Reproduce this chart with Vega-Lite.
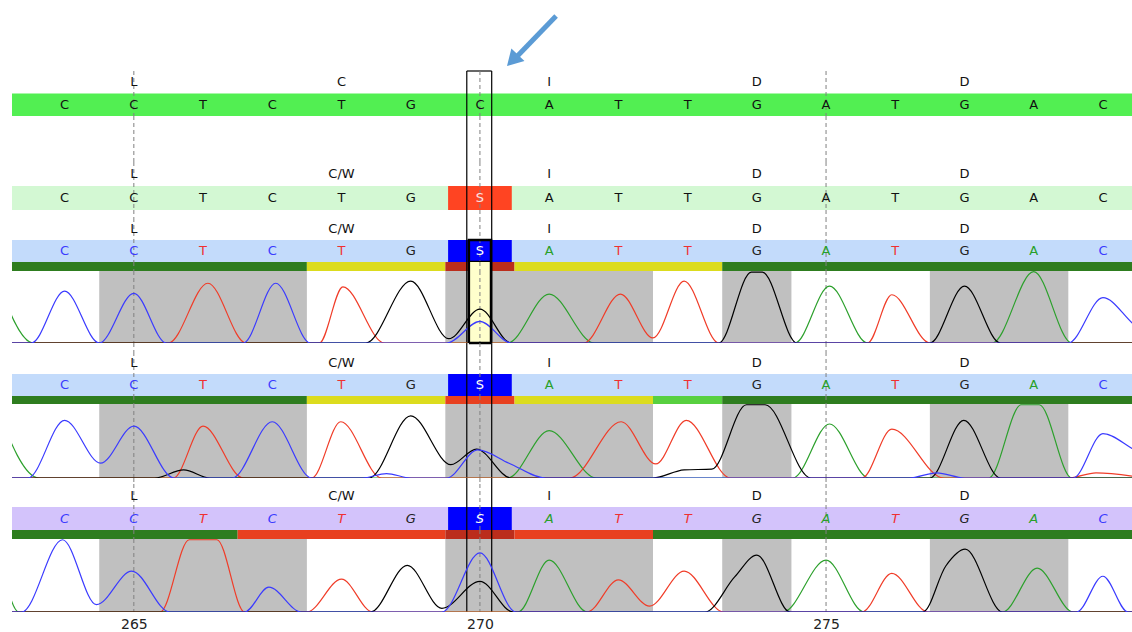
{
"$schema": "https://vega.github.io/schema/vega-lite/v6.json",
"padding": {"left": 12, "top": 0, "right": 0, "bottom": 0},
"spacing": 0,
"bounds": "flush",
"resolve": {"scale": {"color": "independent", "x": "independent", "y": "independent"}},
"config": {"view": {"stroke": null}, "text": {"font": "DejaVu Sans"}},
"datasets": {
"ref": [{"p":264,"b":"C"},{"p":265,"b":"C"},{"p":266,"b":"T"},{"p":267,"b":"C"},{"p":268,"b":"T"},{"p":269,"b":"G"},{"p":270,"b":"C"},{"p":271,"b":"A"},{"p":272,"b":"T"},{"p":273,"b":"T"},{"p":274,"b":"G"},{"p":275,"b":"A"},{"p":276,"b":"T"},{"p":277,"b":"G"},{"p":278,"b":"A"},{"p":279,"b":"C"}],
"smp": [{"p":264,"b":"C"},{"p":265,"b":"C"},{"p":266,"b":"T"},{"p":267,"b":"C"},{"p":268,"b":"T"},{"p":269,"b":"G"},{"p":270,"b":"S"},{"p":271,"b":"A"},{"p":272,"b":"T"},{"p":273,"b":"T"},{"p":274,"b":"G"},{"p":275,"b":"A"},{"p":276,"b":"T"},{"p":277,"b":"G"},{"p":278,"b":"A"},{"p":279,"b":"C"}],
"aa1": [{"p":265,"a":"L"},{"p":268,"a":"C"},{"p":271,"a":"I"},{"p":274,"a":"D"},{"p":277,"a":"D"}],
"aa2": [{"p":265,"a":"L"},{"p":268,"a":"C/W"},{"p":271,"a":"I"},{"p":274,"a":"D"},{"p":277,"a":"D"}],
"refs": [{"p":265},{"p":270},{"p":275}],
"boxl": [{"p":269.81},{"p":270.17}],
"boxk": [{"p":269.84},{"p":270.16}],
"shade": [{"p":264.5,"e":267.5},{"p":269.5,"e":272.5},{"p":273.5,"e":274.5},{"p":276.5,"e":278.5}],
"qual": [
{"r":1,"p":263.24,"e":267.5,"q":"high"},{"r":1,"p":267.5,"e":269.5,"q":"mid"},{"r":1,"p":269.5,"e":270.5,"q":"lowsel"},{"r":1,"p":270.5,"e":273.5,"q":"mid"},{"r":1,"p":273.5,"e":279.42,"q":"high"},
{"r":2,"p":263.24,"e":267.5,"q":"high"},{"r":2,"p":267.5,"e":269.5,"q":"mid"},{"r":2,"p":269.5,"e":270.5,"q":"low"},{"r":2,"p":270.5,"e":272.5,"q":"mid"},{"r":2,"p":272.5,"e":273.5,"q":"midhigh"},{"r":2,"p":273.5,"e":279.42,"q":"high"},
{"r":3,"p":263.24,"e":266.5,"q":"high"},{"r":3,"p":266.5,"e":269.5,"q":"low"},{"r":3,"p":269.5,"e":270.5,"q":"lowsel"},{"r":3,"p":270.5,"e":272.5,"q":"low"},{"r":3,"p":272.5,"e":279.42,"q":"high"}
],
"trace": [
{"r":1,"ch":"A","p":263.0,"v":950},{"r":1,"ch":"A","p":263.55,"v":0},{"r":1,"ch":"A","p":270.4,"v":0},{"r":1,"ch":"A","p":271.0,"v":680},{"r":1,"ch":"A","p":271.65,"v":0},{"r":1,"ch":"A","p":274.55,"v":0},{"r":1,"ch":"A","p":275.05,"v":790},{"r":1,"ch":"A","p":275.6,"v":0},{"r":1,"ch":"A","p":277.4,"v":0},{"r":1,"ch":"A","p":278.0,"v":990},{"r":1,"ch":"A","p":278.55,"v":0},{"r":1,"ch":"A","p":279.6,"v":0},
{"r":1,"ch":"T","p":263.0,"v":0},{"r":1,"ch":"T","p":265.5,"v":0},{"r":1,"ch":"T","p":266.07,"v":830},{"r":1,"ch":"T","p":266.62,"v":0},{"r":1,"ch":"T","p":267.68,"v":0},{"r":1,"ch":"T","p":268.02,"v":780},{"r":1,"ch":"T","p":268.62,"v":0},{"r":1,"ch":"T","p":271.5,"v":0},{"r":1,"ch":"T","p":272.03,"v":680},{"r":1,"ch":"T","p":272.5,"v":70},{"r":1,"ch":"T","p":272.95,"v":860},{"r":1,"ch":"T","p":273.45,"v":0},{"r":1,"ch":"T","p":275.6,"v":0},{"r":1,"ch":"T","p":275.95,"v":670},{"r":1,"ch":"T","p":276.5,"v":0},{"r":1,"ch":"T","p":279.6,"v":0},
{"r":1,"ch":"G","p":263.0,"v":0},{"r":1,"ch":"G","p":268.35,"v":0},{"r":1,"ch":"G","p":269.0,"v":860},{"r":1,"ch":"G","p":269.55,"v":60},{"r":1,"ch":"G","p":270.0,"v":470},{"r":1,"ch":"G","p":270.45,"v":0},{"r":1,"ch":"G","p":273.45,"v":0},{"r":1,"ch":"G","p":273.92,"v":985},{"r":1,"ch":"G","p":274.08,"v":985},{"r":1,"ch":"G","p":274.58,"v":0},{"r":1,"ch":"G","p":276.5,"v":0},{"r":1,"ch":"G","p":277.0,"v":790},{"r":1,"ch":"G","p":277.52,"v":0},{"r":1,"ch":"G","p":279.6,"v":0},
{"r":1,"ch":"C","p":263.0,"v":0},{"r":1,"ch":"C","p":263.52,"v":0},{"r":1,"ch":"C","p":264.0,"v":720},{"r":1,"ch":"C","p":264.5,"v":0},{"r":1,"ch":"C","p":265.0,"v":690},{"r":1,"ch":"C","p":265.47,"v":0},{"r":1,"ch":"C","p":266.58,"v":0},{"r":1,"ch":"C","p":267.05,"v":830},{"r":1,"ch":"C","p":267.55,"v":0},{"r":1,"ch":"C","p":269.52,"v":0},{"r":1,"ch":"C","p":270.0,"v":300},{"r":1,"ch":"C","p":270.45,"v":0},{"r":1,"ch":"C","p":278.5,"v":0},{"r":1,"ch":"C","p":279.0,"v":630},{"r":1,"ch":"C","p":279.42,"v":280},{"r":1,"ch":"C","p":279.6,"v":120},
{"r":2,"ch":"A","p":263.0,"v":990},{"r":2,"ch":"A","p":263.63,"v":0},{"r":2,"ch":"A","p":270.4,"v":0},{"r":2,"ch":"A","p":271.0,"v":640},{"r":2,"ch":"A","p":271.68,"v":0},{"r":2,"ch":"A","p":274.52,"v":0},{"r":2,"ch":"A","p":275.05,"v":730},{"r":2,"ch":"A","p":275.62,"v":0},{"r":2,"ch":"A","p":277.35,"v":0},{"r":2,"ch":"A","p":277.82,"v":990},{"r":2,"ch":"A","p":278.08,"v":990},{"r":2,"ch":"A","p":278.55,"v":0},{"r":2,"ch":"A","p":279.6,"v":0},
{"r":2,"ch":"T","p":263.0,"v":0},{"r":2,"ch":"T","p":265.57,"v":0},{"r":2,"ch":"T","p":266.0,"v":700},{"r":2,"ch":"T","p":266.58,"v":0},{"r":2,"ch":"T","p":267.57,"v":0},{"r":2,"ch":"T","p":267.99,"v":760},{"r":2,"ch":"T","p":268.58,"v":0},{"r":2,"ch":"T","p":271.3,"v":0},{"r":2,"ch":"T","p":272.04,"v":760},{"r":2,"ch":"T","p":272.54,"v":190},{"r":2,"ch":"T","p":272.98,"v":780},{"r":2,"ch":"T","p":273.62,"v":0},{"r":2,"ch":"T","p":275.52,"v":0},{"r":2,"ch":"T","p":275.95,"v":660},{"r":2,"ch":"T","p":276.7,"v":0},{"r":2,"ch":"T","p":278.5,"v":0},{"r":2,"ch":"T","p":278.9,"v":70},{"r":2,"ch":"T","p":279.6,"v":0},
{"r":2,"ch":"G","p":263.0,"v":0},{"r":2,"ch":"G","p":265.3,"v":0},{"r":2,"ch":"G","p":265.72,"v":110},{"r":2,"ch":"G","p":266.1,"v":0},{"r":2,"ch":"G","p":268.4,"v":0},{"r":2,"ch":"G","p":269.0,"v":840},{"r":2,"ch":"G","p":269.58,"v":180},{"r":2,"ch":"G","p":269.95,"v":390},{"r":2,"ch":"G","p":270.45,"v":0},{"r":2,"ch":"G","p":272.5,"v":0},{"r":2,"ch":"G","p":272.95,"v":110},{"r":2,"ch":"G","p":273.35,"v":120},{"r":2,"ch":"G","p":273.85,"v":990},{"r":2,"ch":"G","p":274.12,"v":990},{"r":2,"ch":"G","p":274.78,"v":0},{"r":2,"ch":"G","p":276.5,"v":0},{"r":2,"ch":"G","p":276.99,"v":780},{"r":2,"ch":"G","p":277.52,"v":0},{"r":2,"ch":"G","p":279.6,"v":0},
{"r":2,"ch":"C","p":263.0,"v":0},{"r":2,"ch":"C","p":263.47,"v":0},{"r":2,"ch":"C","p":264.0,"v":780},{"r":2,"ch":"C","p":264.52,"v":200},{"r":2,"ch":"C","p":265.0,"v":700},{"r":2,"ch":"C","p":265.58,"v":0},{"r":2,"ch":"C","p":266.42,"v":0},{"r":2,"ch":"C","p":267.0,"v":760},{"r":2,"ch":"C","p":267.57,"v":0},{"r":2,"ch":"C","p":268.3,"v":0},{"r":2,"ch":"C","p":268.65,"v":60},{"r":2,"ch":"C","p":269.0,"v":0},{"r":2,"ch":"C","p":269.52,"v":0},{"r":2,"ch":"C","p":269.97,"v":380},{"r":2,"ch":"C","p":270.42,"v":200},{"r":2,"ch":"C","p":270.95,"v":0},{"r":2,"ch":"C","p":276.2,"v":0},{"r":2,"ch":"C","p":276.6,"v":70},{"r":2,"ch":"C","p":277.0,"v":0},{"r":2,"ch":"C","p":278.57,"v":0},{"r":2,"ch":"C","p":279.0,"v":600},{"r":2,"ch":"C","p":279.42,"v":400},{"r":2,"ch":"C","p":279.6,"v":300},
{"r":3,"ch":"A","p":263.1,"v":600},{"r":3,"ch":"A","p":263.34,"v":0},{"r":3,"ch":"A","p":270.55,"v":0},{"r":3,"ch":"A","p":271.0,"v":710},{"r":3,"ch":"A","p":271.55,"v":0},{"r":3,"ch":"A","p":274.38,"v":0},{"r":3,"ch":"A","p":275.0,"v":710},{"r":3,"ch":"A","p":275.55,"v":0},{"r":3,"ch":"A","p":277.55,"v":0},{"r":3,"ch":"A","p":278.05,"v":600},{"r":3,"ch":"A","p":278.57,"v":0},{"r":3,"ch":"A","p":279.6,"v":0},
{"r":3,"ch":"T","p":263.0,"v":0},{"r":3,"ch":"T","p":265.38,"v":0},{"r":3,"ch":"T","p":265.8,"v":990},{"r":3,"ch":"T","p":266.2,"v":990},{"r":3,"ch":"T","p":266.6,"v":0},{"r":3,"ch":"T","p":267.5,"v":0},{"r":3,"ch":"T","p":268.0,"v":450},{"r":3,"ch":"T","p":268.45,"v":0},{"r":3,"ch":"T","p":271.55,"v":0},{"r":3,"ch":"T","p":272.0,"v":440},{"r":3,"ch":"T","p":272.45,"v":80},{"r":3,"ch":"T","p":272.95,"v":560},{"r":3,"ch":"T","p":273.52,"v":0},{"r":3,"ch":"T","p":275.52,"v":0},{"r":3,"ch":"T","p":275.95,"v":530},{"r":3,"ch":"T","p":276.47,"v":0},{"r":3,"ch":"T","p":279.6,"v":0},
{"r":3,"ch":"G","p":263.0,"v":0},{"r":3,"ch":"G","p":268.42,"v":0},{"r":3,"ch":"G","p":268.95,"v":640},{"r":3,"ch":"G","p":269.45,"v":50},{"r":3,"ch":"G","p":270.0,"v":420},{"r":3,"ch":"G","p":270.48,"v":0},{"r":3,"ch":"G","p":273.25,"v":0},{"r":3,"ch":"G","p":273.68,"v":480},{"r":3,"ch":"G","p":274.0,"v":780},{"r":3,"ch":"G","p":274.48,"v":0},{"r":3,"ch":"G","p":276.4,"v":0},{"r":3,"ch":"G","p":276.73,"v":630},{"r":3,"ch":"G","p":277.01,"v":860},{"r":3,"ch":"G","p":277.55,"v":0},{"r":3,"ch":"G","p":279.6,"v":0},
{"r":3,"ch":"C","p":263.0,"v":0},{"r":3,"ch":"C","p":263.38,"v":0},{"r":3,"ch":"C","p":263.97,"v":990},{"r":3,"ch":"C","p":264.46,"v":100},{"r":3,"ch":"C","p":264.97,"v":560},{"r":3,"ch":"C","p":265.52,"v":0},{"r":3,"ch":"C","p":266.6,"v":0},{"r":3,"ch":"C","p":266.95,"v":340},{"r":3,"ch":"C","p":267.42,"v":0},{"r":3,"ch":"C","p":269.45,"v":0},{"r":3,"ch":"C","p":270.0,"v":810},{"r":3,"ch":"C","p":270.52,"v":0},{"r":3,"ch":"C","p":278.62,"v":0},{"r":3,"ch":"C","p":279.0,"v":490},{"r":3,"ch":"C","p":279.36,"v":0},{"r":3,"ch":"C","p":279.6,"v":0}
]
},
"vconcat": [
{"width": 1120, "height": 71, "data": {"values": [{}]}, "layer": [
 {"mark": {"type": "rule", "color": "#5b9bd5", "strokeWidth": 5}, "encoding": {
  "x": {"datum": 271.1, "type": "quantitative", "scale": {"domain": [263.24, 279.42], "nice": false, "zero": false}, "axis": null},
  "x2": {"datum": 270.5},
  "y": {"datum": 55, "type": "quantitative", "scale": {"domain": [0, 71], "nice": false, "zero": false}, "axis": null},
  "y2": {"datum": 12}}},
 {"mark": {"type": "point", "shape": "triangle-up", "filled": true, "color": "#5b9bd5", "opacity": 1, "size": 330, "angle": 224}, "encoding": {
  "x": {"datum": 270.47, "type": "quantitative", "scale": {"domain": [263.24, 279.42], "nice": false, "zero": false}, "axis": null},
  "y": {"datum": 10.6, "type": "quantitative", "scale": {"domain": [0, 71], "nice": false, "zero": false}, "axis": null}}},
 {"mark": {"type": "rule", "color": "#000000", "strokeWidth": 1.2}, "encoding": {
  "x": {"datum": 269.81, "type": "quantitative", "scale": {"domain": [263.24, 279.42], "nice": false, "zero": false}, "axis": null},
  "x2": {"datum": 270.17},
  "y": {"datum": 0, "type": "quantitative", "scale": {"domain": [0, 71], "nice": false, "zero": false}, "axis": null}}}
]},
{"width": 1120, "height": 45, "layer": [
 {"data": {"values": [{}]}, "mark": {"type": "rect", "color": "#52ef52"}, "encoding": {
  "x": {"datum": 263.24, "type": "quantitative", "scale": {"domain": [263.24, 279.42], "nice": false, "zero": false}, "axis": null},
  "x2": {"datum": 279.42},
  "y": {"datum": "nt", "type": "nominal", "scale": {"domain": ["aa", "nt"], "paddingInner": 0, "paddingOuter": 0}, "axis": null}}},
 {"data": {"name": "refs"}, "mark": {"type": "rule", "color": "#808080", "strokeDash": [4, 3], "strokeWidth": 1}, "encoding": {"x": {"field": "p", "type": "quantitative", "scale": {"domain": [263.24, 279.42], "nice": false, "zero": false}, "axis": null}}},
 {"data": {"name": "boxl"}, "mark": {"type": "rule", "color": "#000000", "strokeWidth": 1.2}, "encoding": {"x": {"field": "p", "type": "quantitative", "scale": {"domain": [263.24, 279.42], "nice": false, "zero": false}, "axis": null}}},
 {"data": {"name": "ref"}, "mark": {"type": "text", "fontSize": 13, "color": "#111111"}, "encoding": {
  "x": {"field": "p", "type": "quantitative", "scale": {"domain": [263.24, 279.42], "nice": false, "zero": false}, "axis": null},
  "y": {"datum": "nt", "type": "nominal", "scale": {"domain": ["aa", "nt"], "paddingInner": 0, "paddingOuter": 0}, "axis": null},
  "text": {"field": "b"}}},
 {"data": {"name": "aa1"}, "mark": {"type": "text", "fontSize": 13, "color": "#111111"}, "encoding": {
  "x": {"field": "p", "type": "quantitative", "scale": {"domain": [263.24, 279.42], "nice": false, "zero": false}, "axis": null},
  "y": {"datum": "aa", "type": "nominal", "scale": {"domain": ["aa", "nt"], "paddingInner": 0, "paddingOuter": 0}, "axis": null},
  "text": {"field": "a"}}}
]},
{"width": 1120, "height": 46, "layer": [
 {"data": {"name": "refs"}, "mark": {"type": "rule", "color": "#808080", "strokeDash": [4, 3], "strokeWidth": 1}, "encoding": {"x": {"field": "p", "type": "quantitative", "scale": {"domain": [263.24, 279.42], "nice": false, "zero": false}, "axis": null}}},
 {"data": {"name": "boxl"}, "mark": {"type": "rule", "color": "#000000", "strokeWidth": 1.2}, "encoding": {"x": {"field": "p", "type": "quantitative", "scale": {"domain": [263.24, 279.42], "nice": false, "zero": false}, "axis": null}}}
]},
{"width": 1120, "height": 48, "layer": [
 {"data": {"values": [{}]}, "mark": {"type": "rect", "color": "#d3f8d3"}, "encoding": {
  "x": {"datum": 263.24, "type": "quantitative", "scale": {"domain": [263.24, 279.42], "nice": false, "zero": false}, "axis": null},
  "x2": {"datum": 279.42},
  "y": {"datum": "nt", "type": "nominal", "scale": {"domain": ["aa", "nt"], "paddingInner": 0, "paddingOuter": 0}, "axis": null}}},
 {"data": {"values": [{}]}, "mark": {"type": "rect", "color": "#ff4422"}, "encoding": {
  "x": {"datum": 269.54, "type": "quantitative", "scale": {"domain": [263.24, 279.42], "nice": false, "zero": false}, "axis": null},
  "x2": {"datum": 270.46},
  "y": {"datum": "nt", "type": "nominal", "scale": {"domain": ["aa", "nt"], "paddingInner": 0, "paddingOuter": 0}, "axis": null}}},
 {"data": {"name": "refs"}, "mark": {"type": "rule", "color": "#808080", "strokeDash": [4, 3], "strokeWidth": 1}, "encoding": {"x": {"field": "p", "type": "quantitative", "scale": {"domain": [263.24, 279.42], "nice": false, "zero": false}, "axis": null}}},
 {"data": {"name": "boxl"}, "mark": {"type": "rule", "color": "#000000", "strokeWidth": 1.2}, "encoding": {"x": {"field": "p", "type": "quantitative", "scale": {"domain": [263.24, 279.42], "nice": false, "zero": false}, "axis": null}}},
 {"data": {"name": "smp"}, "mark": {"type": "text", "fontSize": 13}, "encoding": {
  "x": {"field": "p", "type": "quantitative", "scale": {"domain": [263.24, 279.42], "nice": false, "zero": false}, "axis": null},
  "y": {"datum": "nt", "type": "nominal", "scale": {"domain": ["aa", "nt"], "paddingInner": 0, "paddingOuter": 0}, "axis": null},
  "text": {"field": "b"},
  "color": {"field": "b", "type": "nominal", "scale": {"domain": ["A", "C", "G", "T", "S"], "range": ["#111111", "#111111", "#111111", "#111111", "#ffe0e0"]}, "legend": null}}},
 {"data": {"name": "aa2"}, "mark": {"type": "text", "fontSize": 13, "color": "#111111"}, "encoding": {
  "x": {"field": "p", "type": "quantitative", "scale": {"domain": [263.24, 279.42], "nice": false, "zero": false}, "axis": null},
  "y": {"datum": "aa", "type": "nominal", "scale": {"domain": ["aa", "nt"], "paddingInner": 0, "paddingOuter": 0}, "axis": null},
  "text": {"field": "a"}}}
]},
{"width": 1120, "height": 8, "layer": [
 {"data": {"name": "refs"}, "mark": {"type": "rule", "color": "#808080", "strokeDash": [4, 3], "strokeWidth": 1}, "encoding": {"x": {"field": "p", "type": "quantitative", "scale": {"domain": [263.24, 279.42], "nice": false, "zero": false}, "axis": null}}},
 {"data": {"name": "boxl"}, "mark": {"type": "rule", "color": "#000000", "strokeWidth": 1.2}, "encoding": {"x": {"field": "p", "type": "quantitative", "scale": {"domain": [263.24, 279.42], "nice": false, "zero": false}, "axis": null}}}
]},
{"width": 1120, "height": 44, "layer": [
 {"data": {"values": [{}]}, "mark": {"type": "rect", "color": "#c3dbfb"}, "encoding": {
  "x": {"datum": 263.24, "type": "quantitative", "scale": {"domain": [263.24, 279.42], "nice": false, "zero": false}, "axis": null},
  "x2": {"datum": 279.42},
  "y": {"datum": "nt", "type": "nominal", "scale": {"domain": ["aa", "nt"], "paddingInner": 0, "paddingOuter": 0}, "axis": null}}},
 {"data": {"values": [{}]}, "mark": {"type": "rect", "color": "#0000ff"}, "encoding": {
  "x": {"datum": 269.54, "type": "quantitative", "scale": {"domain": [263.24, 279.42], "nice": false, "zero": false}, "axis": null},
  "x2": {"datum": 270.46},
  "y": {"datum": "nt", "type": "nominal", "scale": {"domain": ["aa", "nt"], "paddingInner": 0, "paddingOuter": 0}, "axis": null}}},
 {"data": {"name": "refs"}, "mark": {"type": "rule", "color": "#808080", "strokeDash": [4, 3], "strokeWidth": 1}, "encoding": {"x": {"field": "p", "type": "quantitative", "scale": {"domain": [263.24, 279.42], "nice": false, "zero": false}, "axis": null}}},
 {"data": {"name": "boxl"}, "mark": {"type": "rule", "color": "#000000", "strokeWidth": 1.2}, "encoding": {"x": {"field": "p", "type": "quantitative", "scale": {"domain": [263.24, 279.42], "nice": false, "zero": false}, "axis": null}}},
 {"data": {"name": "smp"}, "mark": {"type": "text", "fontSize": 13}, "encoding": {
  "x": {"field": "p", "type": "quantitative", "scale": {"domain": [263.24, 279.42], "nice": false, "zero": false}, "axis": null},
  "y": {"datum": "nt", "type": "nominal", "scale": {"domain": ["aa", "nt"], "paddingInner": 0, "paddingOuter": 0}, "axis": null},
  "text": {"field": "b"},
  "color": {"field": "b", "type": "nominal", "scale": {"domain": ["A", "C", "G", "T", "S"], "range": ["#28a028", "#3a3aff", "#222222", "#f03030", "#ffffff"]}, "legend": null}}},
 {"data": {"values": [{}]}, "mark": {"type": "rect", "filled": false, "color": "#000000", "strokeWidth": 2.5}, "encoding": {
  "x": {"datum": 269.84, "type": "quantitative", "scale": {"domain": [263.24, 279.42], "nice": false, "zero": false}, "axis": null},
  "x2": {"datum": 270.16},
  "y": {"datum": "nt", "type": "nominal", "scale": {"domain": ["aa", "nt"], "paddingInner": 0, "paddingOuter": 0}, "axis": null}}},
 {"data": {"name": "aa2"}, "mark": {"type": "text", "fontSize": 13, "color": "#111111"}, "encoding": {
  "x": {"field": "p", "type": "quantitative", "scale": {"domain": [263.24, 279.42], "nice": false, "zero": false}, "axis": null},
  "y": {"datum": "aa", "type": "nominal", "scale": {"domain": ["aa", "nt"], "paddingInner": 0, "paddingOuter": 0}, "axis": null},
  "text": {"field": "a"}}}
]},
{"width": 1120, "height": 9, "layer": [
 {"data": {"name": "qual"}, "transform": [{"filter": "datum.r == 1"}], "mark": {"type": "rect"}, "encoding": {
  "x": {"field": "p", "type": "quantitative", "scale": {"domain": [263.24, 279.42], "nice": false, "zero": false}, "axis": null},
  "x2": {"field": "e"},
  "color": {"field": "q", "type": "nominal", "scale": {"domain": ["high", "mid", "midhigh", "low", "lowsel"], "range": ["#2e7d1f", "#dcdc1e", "#58d040", "#e8401f", "#bb2d1c"]}, "legend": null}}},
 {"data": {"values": [{}]}, "mark": {"type": "rect", "color": "#ffffcc"}, "encoding": {
  "x": {"datum": 269.84, "type": "quantitative", "scale": {"domain": [263.24, 279.42], "nice": false, "zero": false}, "axis": null},
  "x2": {"datum": 270.16}}},
 {"data": {"name": "refs"}, "mark": {"type": "rule", "color": "#808080", "strokeDash": [4, 3], "strokeWidth": 1}, "encoding": {"x": {"field": "p", "type": "quantitative", "scale": {"domain": [263.24, 279.42], "nice": false, "zero": false}, "axis": null}}},
 {"data": {"name": "boxl"}, "mark": {"type": "rule", "color": "#000000", "strokeWidth": 1.2}, "encoding": {"x": {"field": "p", "type": "quantitative", "scale": {"domain": [263.24, 279.42], "nice": false, "zero": false}, "axis": null}}},
 {"data": {"name": "boxk"}, "mark": {"type": "rule", "color": "#000000", "strokeWidth": 2.5}, "encoding": {"x": {"field": "p", "type": "quantitative", "scale": {"domain": [263.24, 279.42], "nice": false, "zero": false}, "axis": null}}}
]},
{"width": 1120, "height": 72, "layer": [
 {"data": {"name": "shade"}, "mark": {"type": "rect", "color": "#c0c0c0"}, "encoding": {
  "x": {"field": "p", "type": "quantitative", "scale": {"domain": [263.24, 279.42], "nice": false, "zero": false}, "axis": null},
  "x2": {"field": "e"}}},
 {"data": {"values": [{}]}, "mark": {"type": "rect", "color": "#ffffcc"}, "encoding": {
  "x": {"datum": 269.84, "type": "quantitative", "scale": {"domain": [263.24, 279.42], "nice": false, "zero": false}, "axis": null},
  "x2": {"datum": 270.16}}},
 {"data": {"name": "refs"}, "mark": {"type": "rule", "color": "#808080", "strokeDash": [4, 3], "strokeWidth": 1}, "encoding": {"x": {"field": "p", "type": "quantitative", "scale": {"domain": [263.24, 279.42], "nice": false, "zero": false}, "axis": null}}},
 {"data": {"name": "boxl"}, "mark": {"type": "rule", "color": "#000000", "strokeWidth": 1.2}, "encoding": {"x": {"field": "p", "type": "quantitative", "scale": {"domain": [263.24, 279.42], "nice": false, "zero": false}, "axis": null}}},
 {"data": {"name": "trace"}, "transform": [{"filter": "datum.r == 1"}], "mark": {"type": "line", "interpolate": "monotone", "strokeWidth": 1.2, "clip": true}, "encoding": {
  "x": {"field": "p", "type": "quantitative", "scale": {"domain": [263.24, 279.42], "nice": false, "zero": false}, "axis": null},
  "y": {"field": "v", "type": "quantitative", "scale": {"domain": [0, 1000], "nice": false}, "axis": null},
  "color": {"field": "ch", "type": "nominal", "scale": {"domain": ["A", "T", "G", "C"], "range": ["#2ca02c", "#f03c28", "#000000", "#3a3aff"]}, "legend": null}}},
 {"data": {"name": "boxk"}, "mark": {"type": "rule", "color": "#000000", "strokeWidth": 2.5}, "encoding": {"x": {"field": "p", "type": "quantitative", "scale": {"domain": [263.24, 279.42], "nice": false, "zero": false}, "axis": null}}},
 {"data": {"values": [{}]}, "mark": {"type": "rule", "color": "#000000", "strokeWidth": 2.5}, "encoding": {
  "x": {"datum": 269.84, "type": "quantitative", "scale": {"domain": [263.24, 279.42], "nice": false, "zero": false}, "axis": null},
  "x2": {"datum": 270.16},
  "y": {"datum": 0, "type": "quantitative", "scale": {"domain": [0, 1000], "nice": false}, "axis": null}}}
]},
{"width": 1120, "height": 9, "layer": [
 {"data": {"name": "refs"}, "mark": {"type": "rule", "color": "#808080", "strokeDash": [4, 3], "strokeWidth": 1}, "encoding": {"x": {"field": "p", "type": "quantitative", "scale": {"domain": [263.24, 279.42], "nice": false, "zero": false}, "axis": null}}},
 {"data": {"name": "boxl"}, "mark": {"type": "rule", "color": "#000000", "strokeWidth": 1.2}, "encoding": {"x": {"field": "p", "type": "quantitative", "scale": {"domain": [263.24, 279.42], "nice": false, "zero": false}, "axis": null}}}
]},
{"width": 1120, "height": 44, "layer": [
 {"data": {"values": [{}]}, "mark": {"type": "rect", "color": "#c3dbfb"}, "encoding": {
  "x": {"datum": 263.24, "type": "quantitative", "scale": {"domain": [263.24, 279.42], "nice": false, "zero": false}, "axis": null},
  "x2": {"datum": 279.42},
  "y": {"datum": "nt", "type": "nominal", "scale": {"domain": ["aa", "nt"], "paddingInner": 0, "paddingOuter": 0}, "axis": null}}},
 {"data": {"values": [{}]}, "mark": {"type": "rect", "color": "#0000ff"}, "encoding": {
  "x": {"datum": 269.54, "type": "quantitative", "scale": {"domain": [263.24, 279.42], "nice": false, "zero": false}, "axis": null},
  "x2": {"datum": 270.46},
  "y": {"datum": "nt", "type": "nominal", "scale": {"domain": ["aa", "nt"], "paddingInner": 0, "paddingOuter": 0}, "axis": null}}},
 {"data": {"name": "refs"}, "mark": {"type": "rule", "color": "#808080", "strokeDash": [4, 3], "strokeWidth": 1}, "encoding": {"x": {"field": "p", "type": "quantitative", "scale": {"domain": [263.24, 279.42], "nice": false, "zero": false}, "axis": null}}},
 {"data": {"name": "boxl"}, "mark": {"type": "rule", "color": "#000000", "strokeWidth": 1.2}, "encoding": {"x": {"field": "p", "type": "quantitative", "scale": {"domain": [263.24, 279.42], "nice": false, "zero": false}, "axis": null}}},
 {"data": {"name": "smp"}, "mark": {"type": "text", "fontSize": 13}, "encoding": {
  "x": {"field": "p", "type": "quantitative", "scale": {"domain": [263.24, 279.42], "nice": false, "zero": false}, "axis": null},
  "y": {"datum": "nt", "type": "nominal", "scale": {"domain": ["aa", "nt"], "paddingInner": 0, "paddingOuter": 0}, "axis": null},
  "text": {"field": "b"},
  "color": {"field": "b", "type": "nominal", "scale": {"domain": ["A", "C", "G", "T", "S"], "range": ["#28a028", "#3a3aff", "#222222", "#f03030", "#ffffff"]}, "legend": null}}},
 {"data": {"name": "aa2"}, "mark": {"type": "text", "fontSize": 13, "color": "#111111"}, "encoding": {
  "x": {"field": "p", "type": "quantitative", "scale": {"domain": [263.24, 279.42], "nice": false, "zero": false}, "axis": null},
  "y": {"datum": "aa", "type": "nominal", "scale": {"domain": ["aa", "nt"], "paddingInner": 0, "paddingOuter": 0}, "axis": null},
  "text": {"field": "a"}}}
]},
{"width": 1120, "height": 8, "layer": [
 {"data": {"name": "qual"}, "transform": [{"filter": "datum.r == 2"}], "mark": {"type": "rect"}, "encoding": {
  "x": {"field": "p", "type": "quantitative", "scale": {"domain": [263.24, 279.42], "nice": false, "zero": false}, "axis": null},
  "x2": {"field": "e"},
  "color": {"field": "q", "type": "nominal", "scale": {"domain": ["high", "mid", "midhigh", "low", "lowsel"], "range": ["#2e7d1f", "#dcdc1e", "#58d040", "#e8401f", "#bb2d1c"]}, "legend": null}}},
 {"data": {"name": "refs"}, "mark": {"type": "rule", "color": "#808080", "strokeDash": [4, 3], "strokeWidth": 1}, "encoding": {"x": {"field": "p", "type": "quantitative", "scale": {"domain": [263.24, 279.42], "nice": false, "zero": false}, "axis": null}}},
 {"data": {"name": "boxl"}, "mark": {"type": "rule", "color": "#000000", "strokeWidth": 1.2}, "encoding": {"x": {"field": "p", "type": "quantitative", "scale": {"domain": [263.24, 279.42], "nice": false, "zero": false}, "axis": null}}}
]},
{"width": 1120, "height": 74, "layer": [
 {"data": {"name": "shade"}, "mark": {"type": "rect", "color": "#c0c0c0"}, "encoding": {
  "x": {"field": "p", "type": "quantitative", "scale": {"domain": [263.24, 279.42], "nice": false, "zero": false}, "axis": null},
  "x2": {"field": "e"}}},
 {"data": {"name": "refs"}, "mark": {"type": "rule", "color": "#808080", "strokeDash": [4, 3], "strokeWidth": 1}, "encoding": {"x": {"field": "p", "type": "quantitative", "scale": {"domain": [263.24, 279.42], "nice": false, "zero": false}, "axis": null}}},
 {"data": {"name": "boxl"}, "mark": {"type": "rule", "color": "#000000", "strokeWidth": 1.2}, "encoding": {"x": {"field": "p", "type": "quantitative", "scale": {"domain": [263.24, 279.42], "nice": false, "zero": false}, "axis": null}}},
 {"data": {"name": "trace"}, "transform": [{"filter": "datum.r == 2"}], "mark": {"type": "line", "interpolate": "monotone", "strokeWidth": 1.2, "clip": true}, "encoding": {
  "x": {"field": "p", "type": "quantitative", "scale": {"domain": [263.24, 279.42], "nice": false, "zero": false}, "axis": null},
  "y": {"field": "v", "type": "quantitative", "scale": {"domain": [0, 1000], "nice": false}, "axis": null},
  "color": {"field": "ch", "type": "nominal", "scale": {"domain": ["A", "T", "G", "C"], "range": ["#2ca02c", "#f03c28", "#000000", "#3a3aff"]}, "legend": null}}}
]},
{"width": 1120, "height": 6, "layer": [
 {"data": {"name": "refs"}, "mark": {"type": "rule", "color": "#808080", "strokeDash": [4, 3], "strokeWidth": 1}, "encoding": {"x": {"field": "p", "type": "quantitative", "scale": {"domain": [263.24, 279.42], "nice": false, "zero": false}, "axis": null}}},
 {"data": {"name": "boxl"}, "mark": {"type": "rule", "color": "#000000", "strokeWidth": 1.2}, "encoding": {"x": {"field": "p", "type": "quantitative", "scale": {"domain": [263.24, 279.42], "nice": false, "zero": false}, "axis": null}}}
]},
{"width": 1120, "height": 46, "layer": [
 {"data": {"values": [{}]}, "mark": {"type": "rect", "color": "#d3c3fb"}, "encoding": {
  "x": {"datum": 263.24, "type": "quantitative", "scale": {"domain": [263.24, 279.42], "nice": false, "zero": false}, "axis": null},
  "x2": {"datum": 279.42},
  "y": {"datum": "nt", "type": "nominal", "scale": {"domain": ["aa", "nt"], "paddingInner": 0, "paddingOuter": 0}, "axis": null}}},
 {"data": {"values": [{}]}, "mark": {"type": "rect", "color": "#0000ff"}, "encoding": {
  "x": {"datum": 269.54, "type": "quantitative", "scale": {"domain": [263.24, 279.42], "nice": false, "zero": false}, "axis": null},
  "x2": {"datum": 270.46},
  "y": {"datum": "nt", "type": "nominal", "scale": {"domain": ["aa", "nt"], "paddingInner": 0, "paddingOuter": 0}, "axis": null}}},
 {"data": {"name": "refs"}, "mark": {"type": "rule", "color": "#808080", "strokeDash": [4, 3], "strokeWidth": 1}, "encoding": {"x": {"field": "p", "type": "quantitative", "scale": {"domain": [263.24, 279.42], "nice": false, "zero": false}, "axis": null}}},
 {"data": {"name": "boxl"}, "mark": {"type": "rule", "color": "#000000", "strokeWidth": 1.2}, "encoding": {"x": {"field": "p", "type": "quantitative", "scale": {"domain": [263.24, 279.42], "nice": false, "zero": false}, "axis": null}}},
 {"data": {"name": "smp"}, "mark": {"type": "text", "fontSize": 13, "fontStyle": "italic"}, "encoding": {
  "x": {"field": "p", "type": "quantitative", "scale": {"domain": [263.24, 279.42], "nice": false, "zero": false}, "axis": null},
  "y": {"datum": "nt", "type": "nominal", "scale": {"domain": ["aa", "nt"], "paddingInner": 0, "paddingOuter": 0}, "axis": null},
  "text": {"field": "b"},
  "color": {"field": "b", "type": "nominal", "scale": {"domain": ["A", "C", "G", "T", "S"], "range": ["#28a028", "#3a3aff", "#222222", "#f03030", "#ffffff"]}, "legend": null}}},
 {"data": {"name": "aa2"}, "mark": {"type": "text", "fontSize": 13, "color": "#111111"}, "encoding": {
  "x": {"field": "p", "type": "quantitative", "scale": {"domain": [263.24, 279.42], "nice": false, "zero": false}, "axis": null},
  "y": {"datum": "aa", "type": "nominal", "scale": {"domain": ["aa", "nt"], "paddingInner": 0, "paddingOuter": 0}, "axis": null},
  "text": {"field": "a"}}}
]},
{"width": 1120, "height": 9, "layer": [
 {"data": {"name": "qual"}, "transform": [{"filter": "datum.r == 3"}], "mark": {"type": "rect"}, "encoding": {
  "x": {"field": "p", "type": "quantitative", "scale": {"domain": [263.24, 279.42], "nice": false, "zero": false}, "axis": null},
  "x2": {"field": "e"},
  "color": {"field": "q", "type": "nominal", "scale": {"domain": ["high", "mid", "midhigh", "low", "lowsel"], "range": ["#2e7d1f", "#dcdc1e", "#58d040", "#e8401f", "#bb2d1c"]}, "legend": null}}},
 {"data": {"name": "refs"}, "mark": {"type": "rule", "color": "#808080", "strokeDash": [4, 3], "strokeWidth": 1}, "encoding": {"x": {"field": "p", "type": "quantitative", "scale": {"domain": [263.24, 279.42], "nice": false, "zero": false}, "axis": null}}},
 {"data": {"name": "boxl"}, "mark": {"type": "rule", "color": "#000000", "strokeWidth": 1.2}, "encoding": {"x": {"field": "p", "type": "quantitative", "scale": {"domain": [263.24, 279.42], "nice": false, "zero": false}, "axis": null}}}
]},
{"width": 1120, "height": 73, "layer": [
 {"data": {"name": "shade"}, "mark": {"type": "rect", "color": "#c0c0c0"}, "encoding": {
  "x": {"field": "p", "type": "quantitative", "scale": {"domain": [263.24, 279.42], "nice": false, "zero": false}, "axis": {"values": [265, 270, 275], "domain": false, "ticks": false, "grid": false, "labelFontSize": 14, "labelFont": "DejaVu Sans", "labelColor": "#222222", "labelPadding": 5, "title": null}},
  "x2": {"field": "e"}}},
 {"data": {"name": "refs"}, "mark": {"type": "rule", "color": "#808080", "strokeDash": [4, 3], "strokeWidth": 1}, "encoding": {"x": {"field": "p", "type": "quantitative", "scale": {"domain": [263.24, 279.42], "nice": false, "zero": false}, "axis": {"values": [265, 270, 275], "domain": false, "ticks": false, "grid": false, "labelFontSize": 14, "labelFont": "DejaVu Sans", "labelColor": "#222222", "labelPadding": 5, "title": null}}}},
 {"data": {"name": "boxl"}, "mark": {"type": "rule", "color": "#000000", "strokeWidth": 1.2}, "encoding": {"x": {"field": "p", "type": "quantitative", "scale": {"domain": [263.24, 279.42], "nice": false, "zero": false}, "axis": {"values": [265, 270, 275], "domain": false, "ticks": false, "grid": false, "labelFontSize": 14, "labelFont": "DejaVu Sans", "labelColor": "#222222", "labelPadding": 5, "title": null}}}},
 {"data": {"name": "trace"}, "transform": [{"filter": "datum.r == 3"}], "mark": {"type": "line", "interpolate": "monotone", "strokeWidth": 1.2, "clip": true}, "encoding": {
  "x": {"field": "p", "type": "quantitative", "scale": {"domain": [263.24, 279.42], "nice": false, "zero": false}, "axis": {"values": [265, 270, 275], "domain": false, "ticks": false, "grid": false, "labelFontSize": 14, "labelFont": "DejaVu Sans", "labelColor": "#222222", "labelPadding": 5, "title": null}},
  "y": {"field": "v", "type": "quantitative", "scale": {"domain": [0, 1000], "nice": false}, "axis": null},
  "color": {"field": "ch", "type": "nominal", "scale": {"domain": ["A", "T", "G", "C"], "range": ["#2ca02c", "#f03c28", "#000000", "#3a3aff"]}, "legend": null}}}
]}
]
}
